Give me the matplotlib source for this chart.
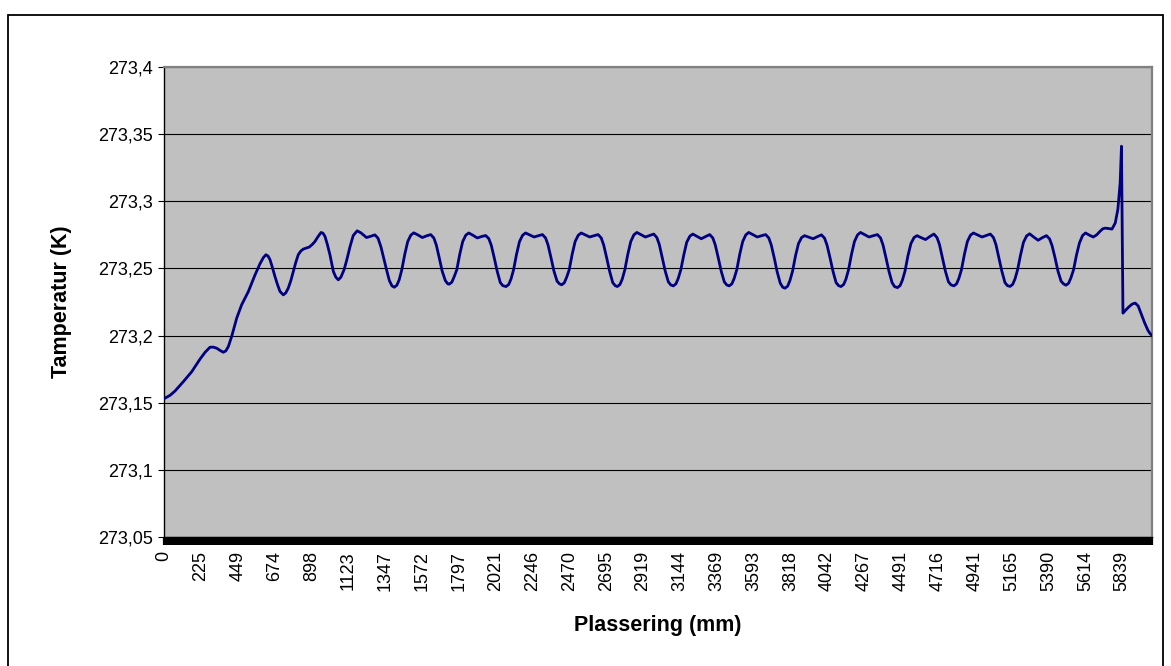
import matplotlib
matplotlib.use('Agg')
import matplotlib.pyplot as plt
from matplotlib.patches import Rectangle
import numpy as np

matplotlib.rc('font', family=['Liberation Sans', 'DejaVu Sans'], size=13)

# Temperature along the pipe
position_mm = [
    0, 37, 67, 118, 169, 219, 250, 280, 300, 321, 341, 361, 376, 392, 412,
    443, 473, 514, 555, 585, 605, 621, 634, 646, 661, 676, 692, 707, 727,
    742, 757, 773, 788, 803, 818, 834, 849, 867, 885, 903, 920, 939, 957,
    969, 981, 995, 1011, 1032, 1047,
    1062, 1078, 1097, 1113, 1133, 1153, 1177, 1200, 1234, 1261, 1285, 1304,
    1322, 1340, 1356, 1373, 1389,
    1403, 1419, 1433, 1449, 1467, 1485, 1504, 1522, 1546, 1574, 1601, 1625,
    1644, 1659, 1677, 1695, 1714, 1729,
    1738, 1754, 1768, 1784, 1802, 1820, 1839, 1857, 1881, 1909, 1936, 1960,
    1979, 1994, 2012, 2030, 2049, 2064,
    2084, 2100, 2114, 2130, 2148, 2166, 2185, 2203, 2227, 2255, 2282, 2306,
    2325, 2340, 2358, 2376, 2395, 2410,
    2423, 2439, 2453, 2469, 2487, 2505, 2524, 2542, 2566, 2594, 2621, 2645,
    2664, 2679, 2697, 2715, 2734, 2749,
    2762, 2778, 2792, 2808, 2826, 2844, 2863, 2881, 2905, 2933, 2960, 2984,
    3003, 3018, 3036, 3054, 3073, 3088,
    3103, 3119, 3133, 3149, 3167, 3185, 3204, 3222, 3246, 3274, 3301, 3325,
    3344, 3359, 3377, 3395, 3414, 3429,
    3444, 3460, 3474, 3490, 3508, 3526, 3545, 3563, 3587, 3615, 3642, 3666,
    3685, 3700, 3718, 3736, 3755, 3770,
    3784, 3800, 3814, 3830, 3848, 3866, 3885, 3903, 3927, 3955, 3982, 4006,
    4025, 4040, 4058, 4076, 4095, 4110,
    4125, 4141, 4155, 4171, 4189, 4207, 4226, 4244, 4268, 4296, 4323, 4347,
    4366, 4381, 4399, 4417, 4436, 4451,
    4469, 4485, 4499, 4515, 4533, 4551, 4570, 4588, 4612, 4640, 4667, 4691,
    4710, 4725, 4743, 4761, 4780, 4795,
    4813, 4829, 4843, 4859, 4877, 4895, 4914, 4932, 4956, 4984, 5011, 5035,
    5054, 5069, 5087, 5105, 5124, 5139,
    5155, 5171, 5185, 5201, 5219, 5237, 5256, 5274, 5298, 5326, 5353, 5377,
    5396, 5411, 5429, 5447, 5466, 5481,
    5496, 5512, 5526, 5542, 5560, 5578, 5597, 5615, 5638, 5662, 5683, 5703,
    5720, 5734, 5756, 5776, 5796, 5812, 5826, 5834, 5843, 5860, 5880, 5900,
    5918, 5936, 5955, 5975, 5995, 6008, 6020,
]
temperature_k = [
    273.1530, 273.1555, 273.1587, 273.1657, 273.1731, 273.1824, 273.1875,
    273.1913, 273.1914, 273.1906, 273.1890, 273.1876, 273.1885, 273.1918,
    273.1992, 273.2130, 273.2229, 273.2328, 273.2453, 273.2535, 273.2580,
    273.2602, 273.2592, 273.2565, 273.2505, 273.2440, 273.2378, 273.2328,
    273.2303, 273.2318, 273.2353, 273.2410, 273.2477, 273.2545, 273.2602,
    273.2630, 273.2644, 273.2652, 273.2659, 273.2678, 273.2701, 273.2738,
    273.2768, 273.2762, 273.2738, 273.2680, 273.2602, 273.2477, 273.2435,
    273.2415, 273.2435, 273.2490, 273.2560, 273.2660, 273.2745, 273.2780,
    273.2765, 273.2730, 273.2740, 273.2750, 273.2725, 273.2660, 273.2570,
    273.2490, 273.2410, 273.2370,
    273.2360, 273.2375, 273.2415, 273.2490, 273.2605, 273.2700, 273.2748,
    273.2765, 273.2750, 273.2730, 273.2743, 273.2752, 273.2727, 273.2675,
    273.2580, 273.2480, 273.2410, 273.2385,
    273.2383, 273.2398, 273.2438, 273.2490, 273.2605, 273.2700, 273.2748,
    273.2764, 273.2748, 273.2727, 273.2738, 273.2745, 273.2722, 273.2673,
    273.2580, 273.2480, 273.2395, 273.2372,
    273.2365, 273.2380, 273.2420, 273.2490, 273.2605, 273.2700, 273.2747,
    273.2764, 273.2750, 273.2734, 273.2744, 273.2752, 273.2727, 273.2675,
    273.2580, 273.2480, 273.2405, 273.2385,
    273.2378, 273.2393, 273.2433, 273.2490, 273.2605, 273.2700, 273.2747,
    273.2764, 273.2750, 273.2734, 273.2744, 273.2752, 273.2727, 273.2675,
    273.2580, 273.2480, 273.2395, 273.2372,
    273.2365, 273.2380, 273.2420, 273.2490, 273.2605, 273.2700, 273.2750,
    273.2768, 273.2752, 273.2734, 273.2746, 273.2756, 273.2730, 273.2678,
    273.2580, 273.2480, 273.2400, 273.2377,
    273.2370, 273.2385, 273.2425, 273.2490, 273.2600, 273.2695, 273.2740,
    273.2756, 273.2740, 273.2721, 273.2738, 273.2752, 273.2727, 273.2675,
    273.2580, 273.2480, 273.2400, 273.2377,
    273.2370, 273.2385, 273.2425, 273.2490, 273.2605, 273.2700, 273.2750,
    273.2768, 273.2752, 273.2734, 273.2744, 273.2752, 273.2727, 273.2675,
    273.2580, 273.2475, 273.2390, 273.2360,
    273.2353, 273.2368, 273.2410, 273.2480, 273.2595, 273.2685, 273.2730,
    273.2744, 273.2733, 273.2721, 273.2737, 273.2750, 273.2725, 273.2673,
    273.2580, 273.2480, 273.2395, 273.2372,
    273.2365, 273.2380, 273.2420, 273.2490, 273.2605, 273.2700, 273.2750,
    273.2768, 273.2752, 273.2734, 273.2744, 273.2752, 273.2727, 273.2675,
    273.2580, 273.2480, 273.2395, 273.2365,
    273.2357, 273.2372, 273.2412, 273.2480, 273.2595, 273.2685, 273.2730,
    273.2744, 273.2730, 273.2715, 273.2738, 273.2756, 273.2730, 273.2678,
    273.2580, 273.2480, 273.2400, 273.2378,
    273.2370, 273.2385, 273.2425, 273.2490, 273.2605, 273.2700, 273.2748,
    273.2764, 273.2750, 273.2734, 273.2746, 273.2756, 273.2730, 273.2678,
    273.2580, 273.2480, 273.2395, 273.2372,
    273.2366, 273.2381, 273.2421, 273.2490, 273.2600, 273.2695, 273.2742,
    273.2758, 273.2735, 273.2710, 273.2730, 273.2744, 273.2720, 273.2670,
    273.2580, 273.2480, 273.2405, 273.2385,
    273.2375, 273.2390, 273.2430, 273.2490, 273.2600, 273.2690, 273.2745,
    273.2764, 273.2748, 273.2734, 273.2750, 273.2776, 273.2795, 273.2800,
    273.2797, 273.2793, 273.2838, 273.2940, 273.3137, 273.3410, 273.2167,
    273.2190, 273.2215, 273.2235, 273.2242, 273.2220, 273.2160, 273.2095,
    273.2040, 273.2015, 273.2000,
]

x_tick_labels = ['0', '225', '449', '674', '898', '1123', '1347', '1572',
                 '1797', '2021', '2246', '2470', '2695', '2919', '3144',
                 '3369', '3593', '3818', '4042', '4267', '4491', '4716',
                 '4941', '5165', '5390', '5614', '5839']
y_ticks = [273.05, 273.1, 273.15, 273.2, 273.25, 273.3, 273.35, 273.4]
y_tick_labels = ['273,05', '273,1', '273,15', '273,2', '273,25', '273,3',
                 '273,35', '273,4']

# one category every 8.98 mm, labelled every 25th
category_step = 224.58 / 25

W, H = 1171, 666
fig = plt.figure(figsize=(W / 100, H / 100), dpi=100)
fig.patch.set_facecolor('white')

# plot area in pixels (left, top, right, bottom)
ax = fig.add_axes([164 / W, 1 - 537 / H, (1152 - 164) / W, (537 - 67) / H])
ax.set_facecolor('#C0C0C0')

ax.plot(position_mm, temperature_k, color='#000080', lw=2.0,
        solid_joinstyle='round', zorder=3)

ax.set_xlim(0, position_mm[-1])
ax.set_ylim(273.05, 273.4)

ax.set_yticks(y_ticks)
ax.set_yticklabels(y_tick_labels)
ax.set_xticks([int(l) for l in x_tick_labels])
ax.set_xticklabels(x_tick_labels, rotation=90)
ax.set_xticks(np.arange(0, position_mm[-1], category_step), minor=True)

ax.yaxis.grid(True, color='black', lw=0.8)
ax.set_axisbelow(True)

ax.tick_params(axis='y', direction='out', length=4, width=0.8, pad=4,
               labelsize=13, colors='black')
# the category ticks are so dense they merge into a solid black band
ax.tick_params(axis='x', which='both', direction='out', length=6, width=1.6,
               colors='black')
ax.tick_params(axis='x', which='major', pad=4, labelsize=13)

ax.spines['left'].set_color('black')
ax.spines['left'].set_linewidth(1.0)
ax.spines['bottom'].set_color('black')
ax.spines['bottom'].set_linewidth(1.0)
for side in ('top', 'right'):
    ax.spines[side].set_color('#808080')
    ax.spines[side].set_linewidth(1.6)

fig.text(61 / W, 1 - 302 / H, 'Tamperatur (K)', rotation=90, ha='center',
         va='center', fontsize=15.5, fontweight='bold')
fig.text(658 / W, 1 - 626 / H, 'Plassering (mm)', ha='center', va='center',
         fontsize=15.5, fontweight='bold')

# chart area frame
fig.patches.append(Rectangle((8 / W, -0.01), (1163 - 8) / W,
                             1 - 15.5 / H + 0.01, transform=fig.transFigure,
                             fill=False, edgecolor='black', lw=1.3))

fig.savefig('out.png', dpi=100)
